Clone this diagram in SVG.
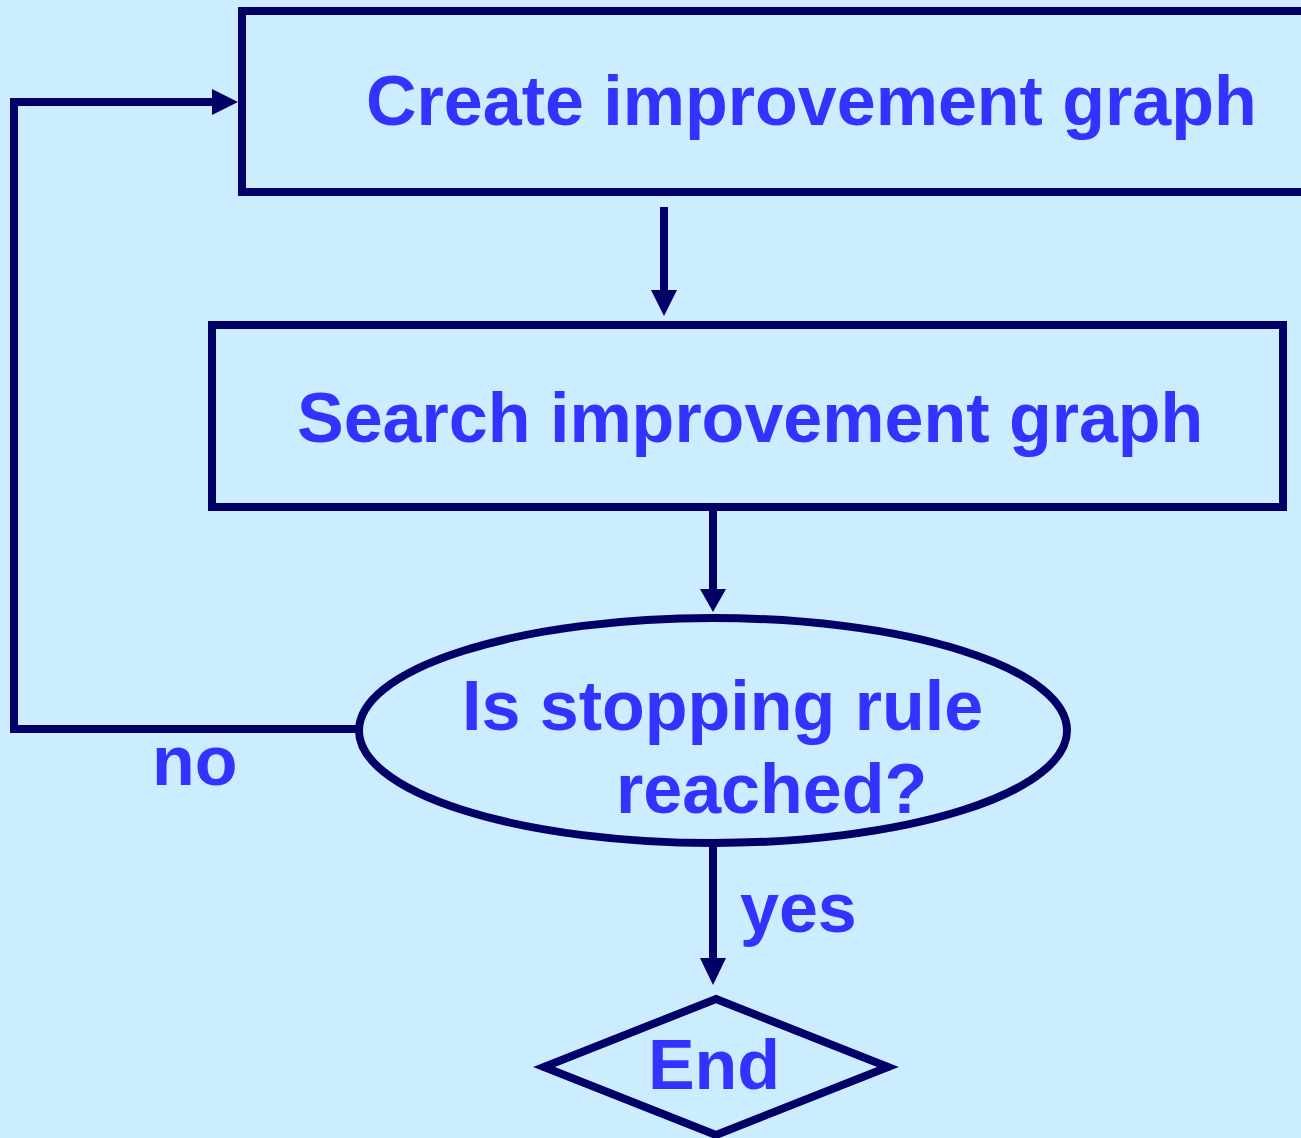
<svg xmlns="http://www.w3.org/2000/svg" width="1301" height="1138" viewBox="0 0 1301 1138">
<defs>
<style>
.shape{fill:none;stroke:#000066;stroke-width:8}
.conn{fill:none;stroke:#000066;stroke-width:8}
.head{fill:#000066;stroke:none}
.lbl{font-family:"Liberation Sans",Arial,sans-serif;font-weight:bold;font-size:70px;fill:#3333FF}
</style>
</defs>
<rect x="0" y="0" width="1301" height="1138" fill="#CCECFF"/>
<g id="connectors">
<polyline class="conn" points="359,729 14,729 14,102 215,102"/>
<polygon class="head" points="212,89 238,102 212,115"/>
<line class="conn" x1="664" y1="207" x2="664" y2="292"/>
<polygon class="head" points="651,290 677,290 664,316"/>
<line class="conn" x1="713" y1="507" x2="713" y2="591"/>
<polygon class="head" points="700,589 726,589 713,612"/>
<line class="conn" x1="713" y1="843" x2="713" y2="960"/>
<polygon class="head" points="700,958 726,958 713,985"/>
<text class="lbl" x="152" y="785">no</text>
<text class="lbl" x="740" y="932">yes</text>
</g>
<g id="create">
<rect class="shape" x="242" y="11" width="1100" height="181"/>
<text class="lbl" x="366" y="125">Create improvement graph</text>
</g>
<g id="search">
<rect class="shape" x="212" y="325" width="1071" height="182"/>
<text class="lbl" x="297" y="442">Search improvement graph</text>
</g>
<g id="decision">
<ellipse class="shape" cx="713" cy="730.5" rx="354" ry="112.5"/>
<text class="lbl" x="462" y="730">Is stopping rule</text>
<text class="lbl" x="616" y="813">reached?</text>
</g>
<g id="end">
<polygon class="shape" points="716,999 888,1067 716,1135 544,1067"/>
<text class="lbl" x="714" y="1089" text-anchor="middle">End</text>
</g>
</svg>
